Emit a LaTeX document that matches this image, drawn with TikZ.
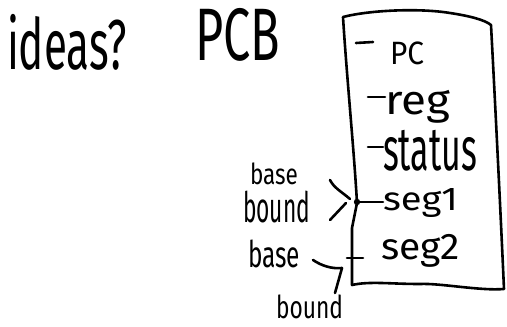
\documentclass[tikz,border=0pt]{standalone}
\usepackage{fontspec}
\setmainfont{Fira Sans}
\usepackage{graphicx}
% a word squeezed to a given width and total height (in pt)
\newcommand\inkword[3]{\resizebox*{#1pt}{#2pt}{#3}}
\begin{document}
\begin{tikzpicture}[x=1pt,y=-1pt,
  ink/.style={line width=2.6pt,line cap=round,line join=round},
  word/.style={anchor=north west,inner sep=0pt,outer sep=0pt}]
\useasboundingbox (0,0) rectangle (507,327);

% headings
\node[word] (ideas) at (7,14) {\inkword{120}{56}{ideas?}};
\node[word] (pcbtitle) at (195,8) {\inkword{85}{53}{PCB}};

% the PCB block
\draw[ink] (343,17) .. controls (370,10) and (420,8) .. (450,13)
  .. controls (470,16) and (485,20) .. (491,25)
  .. controls (495,100) and (500,200) .. (504,289)
  .. controls (480,291) and (440,283) .. (420,284)
  .. controls (390,284) and (370,281) .. (352,285)
  -- (352,228) -- (357,203)
  .. controls (354,150) and (347,80) .. (343,17) -- cycle;

% fields
\node[word] (pc) at (390,42) {\inkword{34}{23}{PC}};
\node[word] (reg) at (385,90) {\inkword{65}{33}{reg}};
\node[word] (status) at (383,130) {\inkword{94}{41}{status}};
\node[word] (seg1) at (383,188) {\inkword{75}{29}{seg1}};
\node[word] (seg2) at (381,234) {\inkword{79}{33}{seg2}};

\coordinate (pcdash) at (356,43);
\coordinate (regdash) at (368,97);
\coordinate (statdash) at (368,147);
\coordinate (j1) at (357,202);
\coordinate (s2dash) at (347,258);

\draw[ink] (pcdash) -- (373,42);
\draw[ink] (regdash) -- (reg.west |- regdash);
\draw[ink] (statdash) -- (status.west |- statdash);
\fill (j1) circle (3.2pt);
\draw[ink] (j1) -- (seg1.west |- j1);
\draw[ink] (s2dash) -- (363,258);

% segment labels
\node[word] (base1) at (250,163) {\inkword{48}{22}{base}};
\node[word] (bound1) at (243,191) {\inkword{67}{32}{bound}};
\node[word] (base2) at (248,240) {\inkword{52}{28}{base}};
\node[word] (bound2) at (276,295) {\inkword{67}{24}{bound}};

% bracket pointing at seg1
\coordinate (brtop) at (330,180);
\coordinate (brbot) at (330,220);
\draw[ink] (brtop) .. controls (334,188) and (342,192) .. (350,199);
\draw[ink] (346,203) -- (brbot);

% pointers to seg2
\coordinate (s2) at (342,268);
\coordinate (bdtail) at (335,293);
\coordinate (bstail) at (313,260);
\draw[ink] (bstail) .. controls (322,266) and (332,269) .. (s2);
\draw[ink] (s2) -- (bdtail);
\end{tikzpicture}
\end{document}
